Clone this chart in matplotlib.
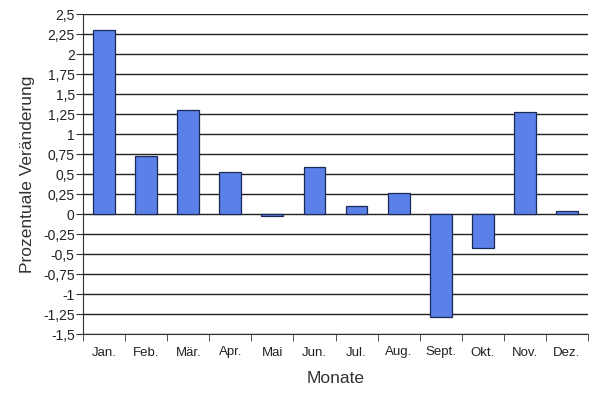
import matplotlib
matplotlib.use("Agg")
import matplotlib.pyplot as plt
import numpy as np

months = ["Jan.", "Feb.", "Mär.", "Apr.", "Mai", "Jun.", "Jul.", "Aug.", "Sept.", "Okt.", "Nov.", "Dez."]
values = [2.30, 0.73, 1.30, 0.52, -0.03, 0.59, 0.10, 0.26, -1.29, -0.43, 1.28, 0.04]
yticks = [-1.5, -1.25, -1.0, -0.75, -0.5, -0.25, 0, 0.25, 0.5, 0.75, 1.0, 1.25, 1.5, 1.75, 2.0, 2.25, 2.5]

plt.rcParams['font.family'] = ['Liberation Sans', 'DejaVu Sans']

fig = plt.figure(figsize=(6.0, 3.94), dpi=100)
ax = fig.add_axes([83/600, 1 - 334/394, (588-83)/600, (334-14)/394])

x = np.arange(len(months))
ax.set_axisbelow(True)
for t in yticks:
    ax.axhline(t, color='#222222', lw=1.0, zorder=0)
ax.bar(x, values, width=0.52, color='#5b80e8', edgecolor='#1a2a55', linewidth=0.9, zorder=2)

ax.set_xlim(-0.5, len(months) - 0.5)
ax.set_ylim(-1.5, 2.5)
ax.set_yticks(yticks)
ax.set_yticklabels([("%g" % t).replace('.', ',') for t in yticks], fontsize=10, color='#222222')
ax.set_xticks(x)
ax.set_xticklabels(months, fontsize=9.5, color='#222222')
ax.tick_params(axis='x', length=0, pad=9)
ax.set_xticks(np.arange(-0.5, len(months)), minor=True)
ax.tick_params(axis='x', which='minor', length=5, direction='out', color='#333333')
ax.tick_params(axis='y', length=5, direction='out', color='#333333', pad=1)

for s in ['top', 'right']:
    ax.spines[s].set_visible(False)
ax.spines['left'].set_color('#333333')
ax.spines['bottom'].set_color('#333333')

ax.set_xlabel("Monate", fontsize=12.5, color='#333333', labelpad=9)
ax.set_ylabel("Prozentuale Veränderung", fontsize=12.5, color='#333333', labelpad=6)

fig.savefig("out.png", dpi=100, facecolor='white')
